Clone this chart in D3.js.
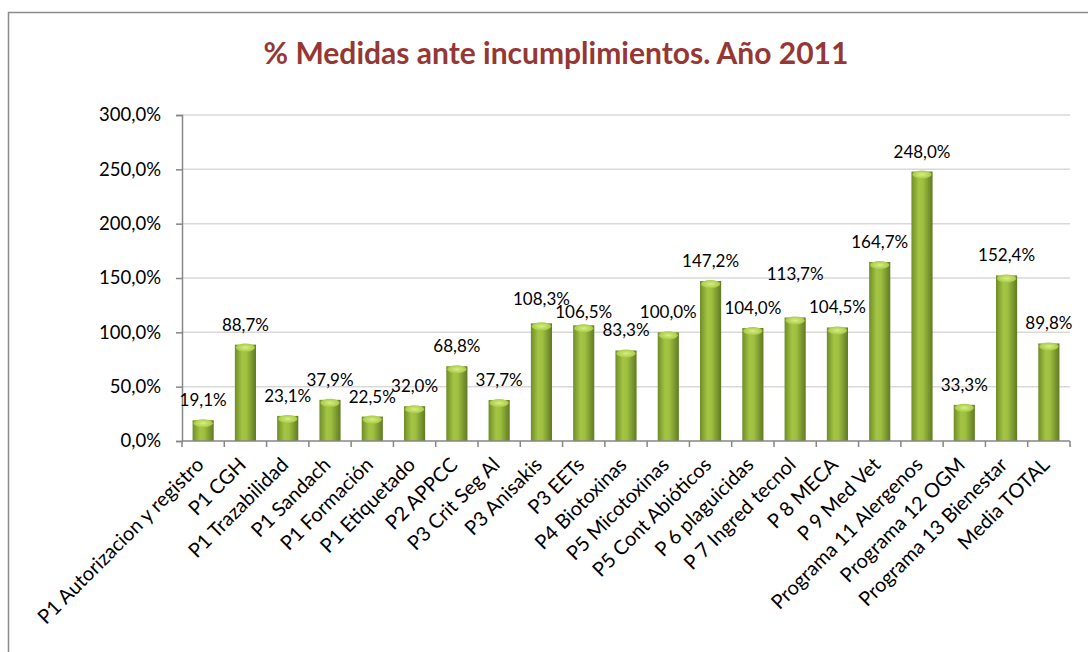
<!DOCTYPE html>
<html>
<head>
<meta charset="utf-8">
<script src="https://cdn.jsdelivr.net/npm/d3@7"></script>
<style>
  body { margin: 0; background: #fff; }
  text { font-family: Lato, "Open Sans", sans-serif; }
</style>
</head>
<body>
<svg id="chart" width="1088" height="652"></svg>
<script>
// data
var categories = ["P1 Autorizacion y registro", "P1 CGH", "P1 Trazabilidad", "P1 Sandach",
    "P1 Formación", "P1 Etiquetado", "P2 APPCC", "P3 Crit Seg Al", "P3 Anisakis", "P3 EETs",
    "P4 Biotoxinas", "P5 Micotoxinas", "P5 Cont Abióticos", "P 6 plaguicidas", "P 7 Ingred tecnol",
    "P 8 MECA", "P 9 Med Vet", "Programa 11 Alergenos", "Programa 12 OGM", "Programa 13 Bienestar",
    "Media TOTAL"];
var values = [19.1, 88.7, 23.1, 37.9, 22.5, 32.0, 68.8, 37.7, 108.3, 106.5,
    83.3, 100.0, 147.2, 104.0, 113.7, 104.5, 164.7, 248.0, 33.3, 152.4, 89.8];
var yTicks = [0, 50, 100, 150, 200, 250, 300];
var title = "% Medidas ante incumplimientos. Año 2011";

// a few data labels were moved by hand in the original (pixels, up is negative)
var labelNudge = { "P3 Anisakis": -4, "P3 EETs": 7, "P 7 Ingred tecnol": -23 };

var svg = d3.select("#chart");
var fmt = function(v) { return d3.format(".1f")(v).replace(".", ",") + "%"; };

// outer frame
svg.append("rect").attr("x", 8.5).attr("y", 12.5).attr("width", 1200).attr("height", 1000)
    .attr("fill", "none").attr("stroke", "#8c8c8c").attr("stroke-width", 1.5);

svg.append("text").attr("x", 556).attr("y", 64).attr("text-anchor", "middle")
    .attr("font-size", 30).attr("font-weight", "bold").attr("fill", "#953735")
    .text(title);

var plotLeft = 182, plotRight = 1070, plotTop = 115, plotBottom = 441;
var x = d3.scaleBand().domain(categories).range([plotLeft, plotRight]).paddingInner(0.5).paddingOuter(0.25);
var y = d3.scaleLinear().domain([0, 300]).range([plotBottom, plotTop]);

// gradient for the cylinder bars
var defs = svg.append("defs");
var grad = defs.append("linearGradient").attr("id", "cyl").attr("x1", 0).attr("x2", 1).attr("y1", 0).attr("y2", 0);
grad.append("stop").attr("offset", "0%").attr("stop-color", "#6f8d27");
grad.append("stop").attr("offset", "35%").attr("stop-color", "#a4c444");
grad.append("stop").attr("offset", "55%").attr("stop-color", "#9fbf40");
grad.append("stop").attr("offset", "100%").attr("stop-color", "#5f7a22");
var capGrad = defs.append("radialGradient").attr("id", "cap");
capGrad.append("stop").attr("offset", "0%").attr("stop-color", "#d6ee85");
capGrad.append("stop").attr("offset", "100%").attr("stop-color", "#a9ca45");

// gridlines
svg.append("g").selectAll("line").data(yTicks.slice(1)).enter().append("line")
    .attr("x1", plotLeft).attr("x2", plotRight)
    .attr("y1", function(d) { return y(d); }).attr("y2", function(d) { return y(d); })
    .attr("stroke", "#d9d9d9").attr("stroke-width", 1.5);

// y axis
var yAxis = d3.axisLeft(y).tickValues(yTicks).tickSize(6).tickPadding(15).tickFormat(fmt);
var gy = svg.append("g").attr("transform", "translate(" + plotLeft + ",0)").call(yAxis);
gy.select(".domain").attr("stroke", "#868686").attr("stroke-width", 1.5);
gy.selectAll(".tick line").attr("stroke", "#868686").attr("stroke-width", 1.5);
gy.selectAll(".tick text").attr("font-size", 18.5).attr("fill", "#000")
    .attr("font-family", "Lato, 'Open Sans', sans-serif");

// bars
var step = x.step();
var bars = svg.append("g").selectAll("g").data(values).enter().append("g");
bars.append("rect")
    .attr("x", function(d, i) { return x(categories[i]); })
    .attr("y", function(d) { return y(d); })
    .attr("width", x.bandwidth())
    .attr("height", function(d) { return plotBottom - y(d); })
    .attr("fill", "url(#cyl)");
bars.append("ellipse")
    .attr("cx", function(d, i) { return x(categories[i]) + x.bandwidth() / 2; })
    .attr("cy", function(d) { return y(d) + 3; })
    .attr("rx", x.bandwidth() / 2 - 1).attr("ry", 4)
    .attr("fill", "url(#cap)");

// x axis
var gx = svg.append("g").attr("transform", "translate(0," + plotBottom + ")");
gx.append("line").attr("x1", plotLeft).attr("x2", plotRight).attr("stroke", "#868686").attr("stroke-width", 1.5);
gx.selectAll(".tk").data(d3.range(categories.length + 1)).enter().append("line")
    .attr("x1", function(i) { return plotLeft + i * step; })
    .attr("x2", function(i) { return plotLeft + i * step; })
    .attr("y1", 0).attr("y2", 6)
    .attr("stroke", "#868686").attr("stroke-width", 1.5);
gx.selectAll("text").data(categories).enter().append("text")
    .attr("transform", function(d) {
        return "translate(" + (x(d) + x.bandwidth() / 2 + 2) + ",25) rotate(-45)";
    })
    .attr("text-anchor", "end")
    .attr("font-size", 20)
    .text(function(d) { return d; });

// value labels
svg.append("g").selectAll("text").data(values).enter().append("text")
    .attr("x", function(d, i) { return x(categories[i]) + x.bandwidth() / 2; })
    .attr("y", function(d, i) { return y(d) - 14 + (labelNudge[categories[i]] || 0); })
    .attr("text-anchor", "middle")
    .attr("font-size", 17)
    .text(fmt);
</script>
</body>
</html>
